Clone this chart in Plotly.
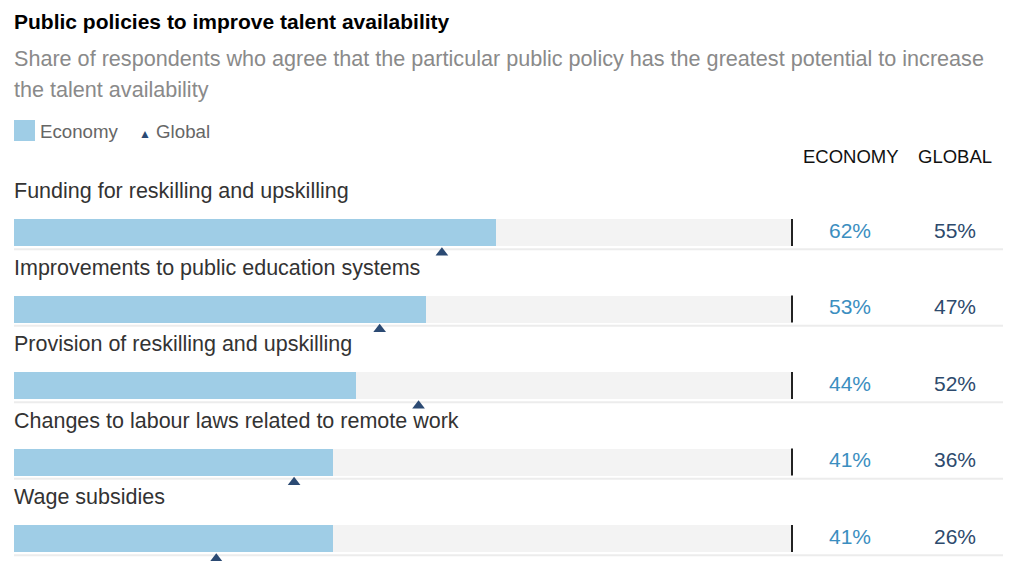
import plotly.graph_objects as go

categories = [
    "Funding for reskilling and upskilling",
    "Improvements to public education systems",
    "Provision of reskilling and upskilling",
    "Changes to labour laws related to remote work",
    "Wage subsidies",
]
economy = [62, 53, 44, 41, 41]
global_vals = [55, 47, 52, 36, 26]

W, H = 1024, 561
FONT = "Liberation Sans, Arial, Helvetica, sans-serif"
BAR_COLOR = "#9fcde6"
TRACK_COLOR = "#f3f3f3"
TRI_COLOR = "#2b4a73"
ECO_TXT = "#3b8ec0"
GLO_TXT = "#2d4a6d"

# pixel geometry -> axis ranges
x0_px, x100_px = 14, 792
ppu = (x100_px - x0_px) / 100.0
xr = [-x0_px / ppu, (W - x0_px) / ppu]
row0_px, row_px = 232.5, 76.5
yr = [(H - row0_px) / row_px, -row0_px / row_px]

def xpx(p):
    return (p - x0_px) / ppu

rows = list(range(len(categories)))
bw = 27 / row_px

fig = go.Figure()
fig.add_trace(go.Bar(x=[100] * len(rows), y=rows, orientation="h", width=bw,
                     marker=dict(color=TRACK_COLOR, line=dict(width=0)),
                     hoverinfo="skip", showlegend=False))
fig.add_trace(go.Bar(x=economy, y=rows, orientation="h", width=bw,
                     marker=dict(color=BAR_COLOR, line=dict(width=0)),
                     name="Economy", showlegend=False))
fig.add_trace(go.Scatter(x=global_vals, y=[r + 0.265 for r in rows], mode="markers",
                         marker=dict(symbol="triangle-up", size=11, color=TRI_COLOR),
                         name="Global", showlegend=False))

shapes = []
annotations = []
for r, cat, e, g in zip(rows, categories, economy, global_vals):
    shapes.append(dict(type="line", xref="x", yref="y", x0=0, x1=xpx(1003),
                       y0=r + 0.22, y1=r + 0.22, line=dict(color="#ececec", width=2),
                       layer="below"))
    shapes.append(dict(type="line", xref="x", yref="y", x0=100, x1=100,
                       y0=r - bw / 2, y1=r + bw / 2, line=dict(color="#222222", width=2)))
    annotations.append(dict(x=xpx(12), y=r - 0.54, xref="x", yref="y", text=cat,
                            showarrow=False, xanchor="left", yanchor="middle",
                            font=dict(family=FONT, size=21.5, color="#333333")))
    annotations.append(dict(x=xpx(850), y=r - 0.03, xref="x", yref="y", text=f"{e}%",
                            showarrow=False, xanchor="center", yanchor="middle",
                            font=dict(family=FONT, size=21, color=ECO_TXT)))
    annotations.append(dict(x=xpx(955), y=r - 0.03, xref="x", yref="y", text=f"{g}%",
                            showarrow=False, xanchor="center", yanchor="middle",
                            font=dict(family=FONT, size=21, color=GLO_TXT)))

def py(p):
    return 1 - p / H

def px(p):
    return p / W

# headers
annotations.append(dict(x=px(851), y=py(157), xref="paper", yref="paper", text="ECONOMY",
                        showarrow=False, xanchor="center", yanchor="middle",
                        font=dict(family=FONT, size=18.5, color="#111111")))
annotations.append(dict(x=px(955), y=py(157), xref="paper", yref="paper", text="GLOBAL",
                        showarrow=False, xanchor="center", yanchor="middle",
                        font=dict(family=FONT, size=18.5, color="#111111")))
# title / subtitle
annotations.append(dict(x=px(12), y=py(22), xref="paper", yref="paper",
                        text="<b>Public policies to improve talent availability</b>",
                        showarrow=False, xanchor="left", yanchor="middle",
                        font=dict(family=FONT, size=21, color="#000000")))
annotations.append(dict(x=px(12), y=py(58), xref="paper", yref="paper",
                        text="Share of respondents who agree that the particular public policy has the greatest potential to increase",
                        showarrow=False, xanchor="left", yanchor="middle",
                        font=dict(family=FONT, size=21.6, color="#8a8a8a")))
annotations.append(dict(x=px(12), y=py(90), xref="paper", yref="paper",
                        text="the talent availability",
                        showarrow=False, xanchor="left", yanchor="middle",
                        font=dict(family=FONT, size=21.6, color="#8a8a8a")))
# legend
shapes.append(dict(type="rect", xref="paper", yref="paper", x0=px(14), x1=px(35),
                   y0=py(141), y1=py(120), fillcolor=BAR_COLOR, line=dict(width=0)))
annotations.append(dict(x=px(38), y=py(131), xref="paper", yref="paper", text="Economy",
                        showarrow=False, xanchor="left", yanchor="middle",
                        font=dict(family=FONT, size=18.7, color="#666666")))
annotations.append(dict(x=px(137), y=py(131), xref="paper", yref="paper",
                        text=f'<span style="color:{TRI_COLOR};font-size:12px">▲</span> Global',
                        showarrow=False, xanchor="left", yanchor="middle",
                        font=dict(family=FONT, size=18.7, color="#666666")))

fig.update_layout(
    width=W, height=H, margin=dict(l=0, r=0, t=0, b=0),
    paper_bgcolor="white", plot_bgcolor="white",
    barmode="overlay", bargap=0,
    xaxis=dict(range=xr, visible=False, fixedrange=True),
    yaxis=dict(range=yr, visible=False, fixedrange=True),
    shapes=shapes, annotations=annotations, showlegend=False,
)
fig.write_html("out.html", config={"displayModeBar": False},
               post_script="document.body.style.margin='0';document.body.style.padding='0';")
